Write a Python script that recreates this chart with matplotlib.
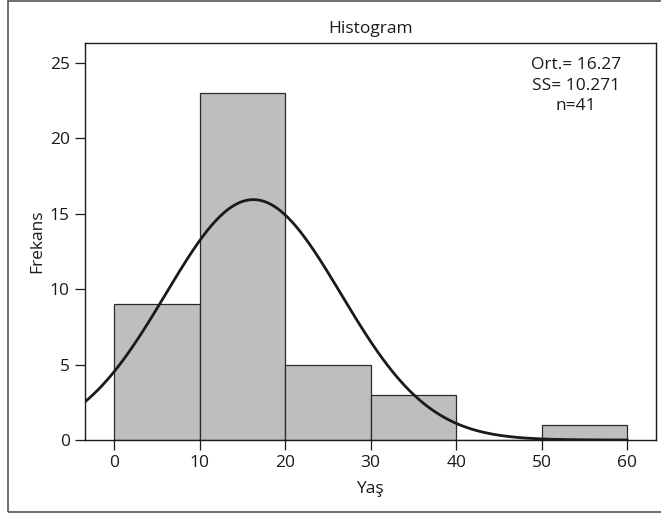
import numpy as np
import matplotlib
matplotlib.use("Agg")
import matplotlib.pyplot as plt
from matplotlib.patches import Rectangle

plt.rcParams['font.family'] = ['Open Sans', 'DejaVu Sans']

bin_edges = [0, 10, 20, 30, 40, 50, 60]
counts = [9, 23, 5, 3, 0, 1]
mean_val = 16.27
sd_val = 10.271
n_val = 41
xticks = [0, 10, 20, 30, 40, 50, 60]
yticks = [0, 5, 10, 15, 20, 25]

fig = plt.figure(figsize=(6.61, 5.15), dpi=100)
ax = fig.add_axes([0.1286, 0.1456, 0.9917 - 0.1286, 0.9165 - 0.1456])

# outer frame
fig.patches.append(Rectangle((8 / 661, 3 / 515), 1.2, 511 / 515, transform=fig.transFigure,
                             fill=False, edgecolor='#555555', linewidth=1.2, zorder=0))

lefts = bin_edges[:-1]
widths = np.diff(bin_edges)
ax.bar(lefts, counts, width=widths, align='edge', color='#BDBEC0',
       edgecolor='#2a2a2a', linewidth=0.9, zorder=2)

xs = np.linspace(-3.43, bin_edges[-1], 400)
binw = bin_edges[1] - bin_edges[0]
ys = n_val * binw / (sd_val * np.sqrt(2 * np.pi)) * np.exp(-0.5 * ((xs - mean_val) / sd_val) ** 2)
ax.plot(xs, ys, color='#1a1a1a', linewidth=2.0, zorder=3)

ax.set_xlim(-3.43, 63.33)
ax.set_ylim(0, 26.3)
ax.set_xticks(xticks)
ax.set_yticks(yticks)
ax.tick_params(direction='out', length=7, width=0.9, labelsize=12.5, pad=4, colors='#1a1a1a')
for s in ax.spines.values():
    s.set_linewidth(1.0)
    s.set_color('#1a1a1a')

ax.set_title('Histogram', fontsize=12.5, pad=7, color='#1a1a1a')
ax.set_xlabel('Yaş', fontsize=12.5, labelpad=7, color='#1a1a1a')
ax.set_ylabel('Frekans', fontsize=12.5, labelpad=3, color='#1a1a1a')

ax.text(0.86, 0.965, f'Ort.= {mean_val:.2f}\nSS= {sd_val:.3f}\nn={n_val}',
        transform=ax.transAxes, ha='center', va='top', fontsize=12.5,
        linespacing=1.4, color='#1a1a1a')

fig.savefig('out.png', dpi=100)
